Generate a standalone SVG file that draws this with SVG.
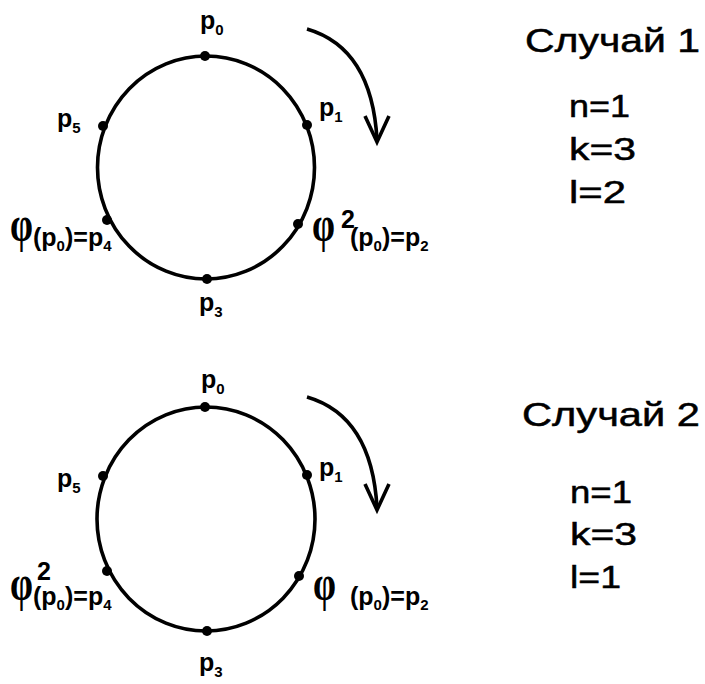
<svg xmlns="http://www.w3.org/2000/svg" width="705" height="684" viewBox="0 0 705 684">
<defs>
<style>
.circ{fill:none;stroke:#000;stroke-width:3.6}
.dot{fill:#000}
.arr{fill:none;stroke:#000;stroke-width:3.6;stroke-linecap:butt}
.lbl{font-family:"Liberation Sans",Arial,sans-serif;font-size:25px;font-weight:bold;fill:#000}
.sub{font-size:15px}
.fl{font-family:"Liberation Sans",Arial,sans-serif;font-size:25px;font-weight:bold;fill:#000}
.phi{font-family:"Liberation Serif","Times New Roman",serif;font-size:50px;font-weight:bold;fill:#000}
.big{font-family:"Liberation Sans",Arial,sans-serif;font-size:34px;fill:#000;stroke:#000;stroke-width:0.5}
.num{font-family:"Liberation Sans",Arial,sans-serif;font-size:32px;fill:#000;stroke:#000;stroke-width:0.5}
</style>
</defs>
<rect width="705" height="684" fill="#fff"/>

<g id="case1">
  <g id="circle1">
    <ellipse class="circ" cx="206" cy="167.5" rx="108.5" ry="111.5"/>
  </g>
  <g id="c1-p0"><circle class="dot" cx="205" cy="56" r="5"/><text class="lbl" x="200" y="29">p<tspan class="sub" dy="6">0</tspan></text></g>
  <g id="c1-p1"><circle class="dot" cx="307" cy="125" r="5"/><text class="lbl" x="319" y="116">p<tspan class="sub" dy="6">1</tspan></text></g>
  <g id="c1-p2"><circle class="dot" cx="298" cy="224" r="5"/>
    <text class="phi" x="312" y="241" textLength="23" lengthAdjust="spacingAndGlyphs">φ</text>
    <text class="fl" x="341" y="228" font-size="18">2</text>
    <text class="fl" x="350" y="246">(p<tspan class="sub" dy="5">0</tspan><tspan dy="-5">)=p</tspan><tspan class="sub" dy="5">2</tspan></text></g>
  <g id="c1-p3"><circle class="dot" cx="207" cy="279" r="5"/><text class="lbl" x="199" y="311">p<tspan class="sub" dy="6">3</tspan></text></g>
  <g id="c1-p4"><circle class="dot" cx="107" cy="220" r="5"/>
    <text class="phi" x="10" y="241" textLength="23" lengthAdjust="spacingAndGlyphs">φ</text>
    <text class="fl" x="33" y="246">(p<tspan class="sub" dy="5">0</tspan><tspan dy="-5">)=p</tspan><tspan class="sub" dy="5">4</tspan></text></g>
  <g id="c1-p5"><circle class="dot" cx="103" cy="126" r="5"/><text class="lbl" x="57" y="127">p<tspan class="sub" dy="6">5</tspan></text></g>
  <g id="c1-info">
    <text class="big" x="525" y="52" textLength="175" lengthAdjust="spacingAndGlyphs">Случай 1</text>
    <text class="num" x="569" y="117" textLength="61" lengthAdjust="spacingAndGlyphs">n=1</text>
    <text class="num" x="569" y="160" textLength="67" lengthAdjust="spacingAndGlyphs">k=3</text>
    <text class="num" x="569" y="203" textLength="57" lengthAdjust="spacingAndGlyphs">l=2</text>
  </g>
</g>

<g id="case2">
  <g id="circle2">
    <ellipse class="circ" cx="206" cy="519" rx="109" ry="112"/>
  </g>
  <g id="c2-p0"><circle class="dot" cx="205" cy="407" r="5"/><text class="lbl" x="201" y="388">p<tspan class="sub" dy="6">0</tspan></text></g>
  <g id="c2-p1"><circle class="dot" cx="307" cy="475" r="5"/><text class="lbl" x="319" y="476">p<tspan class="sub" dy="6">1</tspan></text></g>
  <g id="c2-p2"><circle class="dot" cx="299" cy="576" r="5"/>
    <text class="phi" x="313" y="600" textLength="23" lengthAdjust="spacingAndGlyphs">φ</text>
    <text class="fl" x="350" y="605">(p<tspan class="sub" dy="5">0</tspan><tspan dy="-5">)=p</tspan><tspan class="sub" dy="5">2</tspan></text></g>
  <g id="c2-p3"><circle class="dot" cx="207" cy="631" r="5"/><text class="lbl" x="199" y="671">p<tspan class="sub" dy="6">3</tspan></text></g>
  <g id="c2-p4"><circle class="dot" cx="107" cy="571" r="5"/>
    <text class="phi" x="10" y="600" textLength="23" lengthAdjust="spacingAndGlyphs">φ</text>
    <text class="fl" x="37" y="580">2</text>
    <text class="fl" x="33" y="605">(p<tspan class="sub" dy="5">0</tspan><tspan dy="-5">)=p</tspan><tspan class="sub" dy="5">4</tspan></text></g>
  <g id="c2-p5"><circle class="dot" cx="103" cy="476" r="5"/><text class="lbl" x="57" y="487">p<tspan class="sub" dy="6">5</tspan></text></g>
  <g id="c2-info">
    <text class="big" x="522" y="426" textLength="178" lengthAdjust="spacingAndGlyphs">Случай 2</text>
    <text class="num" x="570" y="503" textLength="62" lengthAdjust="spacingAndGlyphs">n=1</text>
    <text class="num" x="570" y="545" textLength="67" lengthAdjust="spacingAndGlyphs">k=3</text>
    <text class="num" x="570" y="588" textLength="51" lengthAdjust="spacingAndGlyphs">l=1</text>
  </g>
</g>

<g id="connectors">
  <path class="arr" d="M307,29 Q372,48 377,140"/>
  <path class="arr" d="M365,116 L377,142 L389,116"/>
  <path class="arr" d="M307,397 Q372,416 377,508"/>
  <path class="arr" d="M365,484 L377,510 L389,484"/>
</g>
</svg>
